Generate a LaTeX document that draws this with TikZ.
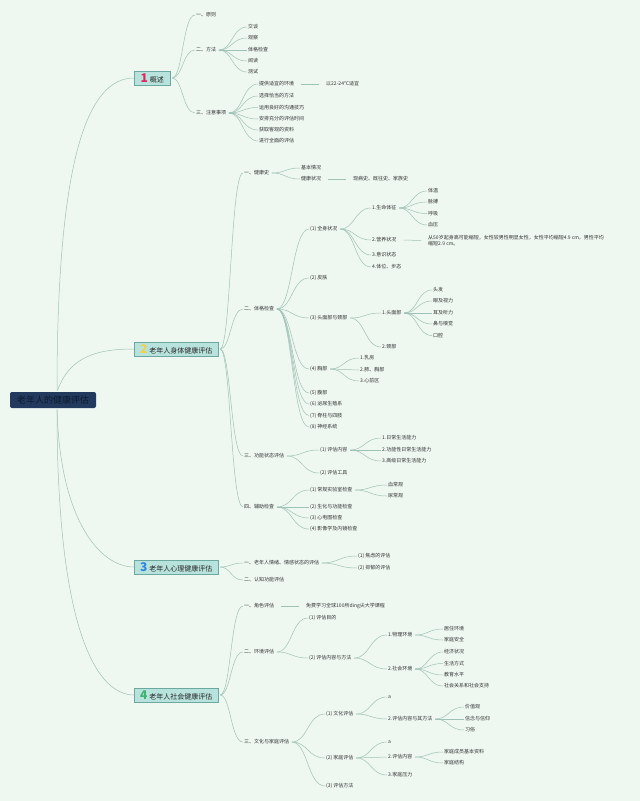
\documentclass[tikz,border=0pt]{standalone}
\usepackage{fontspec}
\setmainfont{Noto Sans CJK SC}
\usetikzlibrary{calc}
\definecolor{bg}{HTML}{EEF7F0}
\definecolor{lnc}{HTML}{9FC2B6}
\definecolor{bx}{HTML}{B8E2DC}
\definecolor{bxd}{HTML}{6AA8A0}
\definecolor{tx}{HTML}{333333}
\definecolor{rootc}{HTML}{223A5E}
\definecolor{roott}{HTML}{0E1A2E}
\definecolor{nA}{HTML}{E0245E}
\definecolor{nB}{HTML}{F2D04B}
\definecolor{nC}{HTML}{2E86DE}
\definecolor{nD}{HTML}{3CB371}
\newcommand\kids[2]{\foreach \kk in {#2}{\draw[lk] (#1.east) to[hc] (\kk.west);}}
\begin{document}
\begin{tikzpicture}[x=1pt,y=-1pt,
 t/.style={anchor=west,inner sep=1pt,text=tx,font=\fontsize{5}{6}\selectfont},
 sec/.style={anchor=west,draw=bxd,fill=bx,line width=0.6pt,inner sep=1pt,minimum height=14pt,font=\fontsize{7}{8}\selectfont,text=black!85},
 lk/.style={draw=lnc,line width=0.5pt,shorten <=1.5pt},
 hc/.style={to path={let \p1=(\tikztostart), \p2=(\tikztotarget), \n1={0.5*(\x2-\x1)} in .. controls ([xshift=\n1]\p1) and ([xshift=-\n1]\p2) .. (\p2) \tikztonodes}}]
\fill[bg] (0,0) rectangle (640,801);
\useasboundingbox (0,0) rectangle (640,801);

% root
\node[fill=rootc,rounded corners=2pt,minimum width=86pt,minimum height=16pt,inner sep=1pt,text=roott,font=\fontsize{9}{10}\selectfont] (root) at (53,400) {老年人的健康评估};

% section boxes
\node[sec,minimum width=36pt] (s1) at (134,78) {{\fontsize{12}{12}\selectfont\bfseries\color{nA}1}\hspace{2pt}概述};
\node[sec,minimum width=84pt] (s2) at (134,349) {{\fontsize{12}{12}\selectfont\bfseries\color{nB}2}\hspace{2pt}老年人身体健康评估};
\node[sec,minimum width=84pt] (s3) at (134,567) {{\fontsize{12}{12}\selectfont\bfseries\color{nC}3}\hspace{2pt}老年人心理健康评估};
\node[sec,minimum width=84pt] (s4) at (134,695) {{\fontsize{12}{12}\selectfont\bfseries\color{nD}4}\hspace{2pt}老年人社会健康评估};

\coordinate (rt) at (57,392);
\coordinate (rb) at (57,408);
\draw[lk] (rt) .. controls (57,150) and (90,78) .. (s1.west);
\draw[lk] (rt) .. controls (70,355) and (100,349) .. (s2.west);
\draw[lk] (rb) .. controls (60,520) and (100,567) .. (s3.west);
\draw[lk] (rb) .. controls (57,640) and (100,695) .. (s4.west);

% ===== section 1
\node[t] (a1) at (195,15) {一、原则};
\node[t] (a2) at (195,50) {二、方法};
\node[t] (a3) at (195,113) {三、注意事项};
\kids{s1}{a1,a2,a3}
\node[t] (a21) at (247,27) {交谈};
\node[t] (a22) at (247,38) {观察};
\node[t] (a23) at (247,50) {体格检查};
\node[t] (a24) at (247,61) {阅读};
\node[t] (a25) at (247,72) {测试};
\kids{a2}{a21,a22,a23,a24,a25}
\node[t] (a31) at (258,84) {提供适宜的环境};
\node[t] (a32) at (258,96) {选择恰当的方法};
\node[t] (a33) at (258,107.5) {运用良好的沟通技巧};
\node[t] (a34) at (258,119) {安排充分的评估时间};
\node[t] (a35) at (258,130) {获取客观的资料};
\node[t] (a36) at (258,141) {进行全面的评估};
\kids{a3}{a31,a32,a33,a34,a35,a36}
\node[t] (a311) at (325,84) {以22-24°C适宜};
\draw[lk,shorten >=6pt,shorten <=6pt] (a31.east) -- (a311.west);

% ===== section 2
\node[t] (b1) at (243,173) {一、健康史};
\node[t] (b2) at (243,309) {二、体格检查};
\node[t] (b3) at (243,456) {三、功能状态评估};
\node[t] (b4) at (243,507) {四、辅助检查};
\kids{s2}{b1,b2,b3,b4}
\node[t] (b11) at (300,168) {基本情况};
\node[t] (b12) at (300,179) {健康状况};
\kids{b1}{b11,b12}
\node[t] (b121) at (352,179) {现病史、既往史、家族史};
\draw[lk,shorten >=6pt,shorten <=6pt] (b12.east) -- (b121.west);

\node[t] (b21) at (309,229) {(1)\ 全身状况};
\node[t] (b22) at (309,278) {(2)\ 皮肤};
\node[t] (b23) at (309,318) {(3)\ 头面部与颈部};
\node[t] (b24) at (309,369) {(4)\ 胸部};
\node[t] (b25) at (309,393) {(5)\ 腹部};
\node[t] (b26) at (309,404) {(6)\ 泌尿生殖系};
\node[t] (b27) at (309,415.5) {(7)\ 脊柱与四肢};
\node[t] (b28) at (309,427) {(8)\ 神经系统};
\kids{b2}{b21,b22,b23,b24,b25,b26,b27,b28}

\node[t] (b211) at (371,208) {1.生命体征};
\node[t] (b212) at (371,240) {2.营养状况};
\node[t] (b213) at (371,255) {3.意识状态};
\node[t] (b214) at (371,267) {4.体位、步态};
\kids{b21}{b211,b212,b213,b214}
\node[t] (v1) at (427,191) {体温};
\node[t] (v2) at (427,202) {脉搏};
\node[t] (v3) at (427,213.5) {呼吸};
\node[t] (v4) at (427,225) {血压};
\kids{b211}{v1,v2,v3,v4}
\node[t,align=left] (b2121) at (427,240.5) {从50岁起身高可能缩短，女性较男性明显女性，女性平均缩短4.9 cm，男性平均\\缩短2.9 cm。};
\draw[lk,shorten >=6pt,shorten <=6pt] (b212.east) -- (b2121.west);

\node[t] (b231) at (381,313) {1.头面部};
\node[t] (b232) at (381,347) {2.颈部};
\kids{b23}{b231,b232}
\node[t] (h1) at (432,290) {头发};
\node[t] (h2) at (432,301) {眼及视力};
\node[t] (h3) at (432,313) {耳及听力};
\node[t] (h4) at (432,324) {鼻与嗅觉};
\node[t] (h5) at (432,335.5) {口腔};
\kids{b231}{h1,h2,h3,h4,h5}

\node[t] (c1x) at (359,358) {1.乳房};
\node[t] (c2x) at (359,370) {2.肺、胸部};
\node[t] (c3x) at (359,381) {3.心前区};
\kids{b24}{c1x,c2x,c3x}

\node[t] (b31) at (319,450) {(1)\ 评估内容};
\node[t] (b32) at (319,473) {(2)\ 评估工具};
\kids{b3}{b31,b32}
\node[t] (f1) at (381,438) {1.日常生活能力};
\node[t] (f2) at (381,450) {2.功能性日常生活能力};
\node[t] (f3) at (381,461) {3.高级日常生活能力};
\kids{b31}{f1,f2,f3}

\node[t] (b41) at (309,490) {(1)\ 常规实验室检查};
\node[t] (b42) at (309,507) {(2)\ 生化与功能检查};
\node[t] (b43) at (309,518) {(3)\ 心电图检查};
\node[t] (b44) at (309,529) {(4)\ 影像学及内镜检查};
\kids{b4}{b41,b42,b43,b44}
\node[t] (g1) at (387,485) {血常规};
\node[t] (g2) at (387,496) {尿常规};
\kids{b41}{g1,g2}

% ===== section 3
\node[t] (c1) at (243,563) {一、老年人情绪、情感状态的评估};
\node[t] (c2) at (243,580) {二、认知功能评估};
\kids{s3}{c1,c2}
\node[t] (c11) at (357,556) {(1)\ 焦虑的评估};
\node[t] (c12) at (357,568) {(2)\ 抑郁的评估};
\kids{c1}{c11,c12}

% ===== section 4
\node[t] (d1) at (243,606) {一、角色评估};
\node[t] (d2) at (243,652) {二、环境评估};
\node[t] (d3) at (243,742) {三、文化与家庭评估};
\kids{s4}{d1,d2,d3}
\node[t] (d11) at (305,606) {免费学习全球100所ding尖大学课程};
\draw[lk,shorten >=6pt,shorten <=6pt] (d1.east) -- (d11.west);

\node[t] (d21) at (308,618) {(1)\ 评估目的};
\node[t] (d22) at (308,658) {(2)\ 评估内容与方法};
\kids{d2}{d21,d22}
\node[t] (d221) at (387,635) {1.物理环境};
\node[t] (d222) at (387,669) {2.社会环境};
\kids{d22}{d221,d222}
\node[t] (e1) at (443,629) {居住环境};
\node[t] (e2) at (443,640) {家庭安全};
\kids{d221}{e1,e2}
\node[t] (e3) at (443,652) {经济状况};
\node[t] (e4) at (443,663.5) {生活方式};
\node[t] (e5) at (443,675) {教育水平};
\node[t] (e6) at (443,686) {社会关系和社会支持};
\kids{d222}{e3,e4,e5,e6}

\node[t] (d31) at (325,714) {(1)\ 文化评估};
\node[t] (d32) at (325,758) {(2)\ 家庭评估};
\node[t] (d33) at (325,786) {(3)\ 评估方法};
\kids{d3}{d31,d32,d33}
\node[t] (d311) at (387,697) {a};
\node[t] (d312) at (387,719) {2.评估内容与其方法};
\kids{d31}{d311,d312}
\node[t] (k1) at (464,707) {价值观};
\node[t] (k2) at (464,719) {信念与信仰};
\node[t] (k3) at (464,730) {习俗};
\kids{d312}{k1,k2,k3}
\node[t] (d321) at (387,742) {a};
\node[t] (d322) at (387,757) {2.评估内容};
\node[t] (d323) at (387,775) {3.家庭压力};
\kids{d32}{d321,d322,d323}
\node[t] (m1) at (443,752) {家庭成员基本资料};
\node[t] (m2) at (443,763) {家庭结构};
\kids{d322}{m1,m2}
\end{tikzpicture}
\end{document}
